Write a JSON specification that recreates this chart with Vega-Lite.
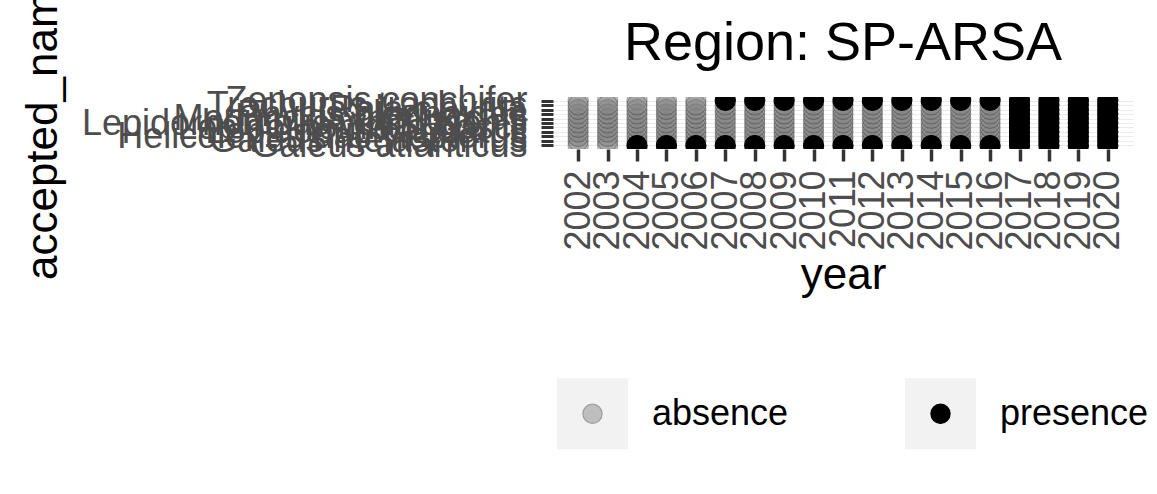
{
  "$schema": "https://vega.github.io/schema/vega-lite/v6.json",
  "width": 580,
  "height": 52,
  "autosize": {"type": "none"},
  "padding": {"left": 553, "top": 97, "right": 24, "bottom": 345},
  "background": "white",
  "config": {"font": "Liberation Sans", "view": {"stroke": null}},
  "title": {"text": "Region: SP-ARSA", "fontSize": 54, "fontWeight": "normal", "color": "#000000", "anchor": "middle", "frame": "group", "baseline": "alphabetic", "offset": -148},
  "datasets": {
    "occ": [
      {"accepted_name": "Galeus atlanticus", "year": 2002, "status": "absence"},
      {"accepted_name": "Galeus atlanticus", "year": 2003, "status": "absence"},
      {"accepted_name": "Galeus atlanticus", "year": 2004, "status": "presence"},
      {"accepted_name": "Galeus atlanticus", "year": 2005, "status": "presence"},
      {"accepted_name": "Galeus atlanticus", "year": 2006, "status": "presence"},
      {"accepted_name": "Galeus atlanticus", "year": 2007, "status": "presence"},
      {"accepted_name": "Galeus atlanticus", "year": 2008, "status": "presence"},
      {"accepted_name": "Galeus atlanticus", "year": 2009, "status": "presence"},
      {"accepted_name": "Galeus atlanticus", "year": 2010, "status": "presence"},
      {"accepted_name": "Galeus atlanticus", "year": 2011, "status": "presence"},
      {"accepted_name": "Galeus atlanticus", "year": 2012, "status": "presence"},
      {"accepted_name": "Galeus atlanticus", "year": 2013, "status": "presence"},
      {"accepted_name": "Galeus atlanticus", "year": 2014, "status": "presence"},
      {"accepted_name": "Galeus atlanticus", "year": 2015, "status": "presence"},
      {"accepted_name": "Galeus atlanticus", "year": 2016, "status": "presence"},
      {"accepted_name": "Galeus atlanticus", "year": 2017, "status": "presence"},
      {"accepted_name": "Galeus atlanticus", "year": 2018, "status": "presence"},
      {"accepted_name": "Galeus atlanticus", "year": 2019, "status": "presence"},
      {"accepted_name": "Galeus atlanticus", "year": 2020, "status": "presence"},
      {"accepted_name": "Zenopsis conchifer", "year": 2002, "status": "absence"},
      {"accepted_name": "Zenopsis conchifer", "year": 2003, "status": "absence"},
      {"accepted_name": "Zenopsis conchifer", "year": 2004, "status": "absence"},
      {"accepted_name": "Zenopsis conchifer", "year": 2005, "status": "absence"},
      {"accepted_name": "Zenopsis conchifer", "year": 2006, "status": "absence"},
      {"accepted_name": "Zenopsis conchifer", "year": 2007, "status": "presence"},
      {"accepted_name": "Zenopsis conchifer", "year": 2008, "status": "presence"},
      {"accepted_name": "Zenopsis conchifer", "year": 2009, "status": "presence"},
      {"accepted_name": "Zenopsis conchifer", "year": 2010, "status": "presence"},
      {"accepted_name": "Zenopsis conchifer", "year": 2011, "status": "presence"},
      {"accepted_name": "Zenopsis conchifer", "year": 2012, "status": "presence"},
      {"accepted_name": "Zenopsis conchifer", "year": 2013, "status": "presence"},
      {"accepted_name": "Zenopsis conchifer", "year": 2014, "status": "presence"},
      {"accepted_name": "Zenopsis conchifer", "year": 2015, "status": "presence"},
      {"accepted_name": "Zenopsis conchifer", "year": 2016, "status": "presence"},
      {"accepted_name": "Zenopsis conchifer", "year": 2017, "status": "presence"},
      {"accepted_name": "Zenopsis conchifer", "year": 2018, "status": "presence"},
      {"accepted_name": "Zenopsis conchifer", "year": 2019, "status": "presence"},
      {"accepted_name": "Zenopsis conchifer", "year": 2020, "status": "presence"},
      {"accepted_name": "Galeus melastomus", "year": 2002, "status": "absence"},
      {"accepted_name": "Galeus melastomus", "year": 2003, "status": "absence"},
      {"accepted_name": "Galeus melastomus", "year": 2004, "status": "absence"},
      {"accepted_name": "Galeus melastomus", "year": 2005, "status": "absence"},
      {"accepted_name": "Galeus melastomus", "year": 2006, "status": "absence"},
      {"accepted_name": "Galeus melastomus", "year": 2007, "status": "absence"},
      {"accepted_name": "Galeus melastomus", "year": 2008, "status": "absence"},
      {"accepted_name": "Galeus melastomus", "year": 2009, "status": "absence"},
      {"accepted_name": "Galeus melastomus", "year": 2010, "status": "absence"},
      {"accepted_name": "Galeus melastomus", "year": 2011, "status": "absence"},
      {"accepted_name": "Galeus melastomus", "year": 2012, "status": "absence"},
      {"accepted_name": "Galeus melastomus", "year": 2013, "status": "absence"},
      {"accepted_name": "Galeus melastomus", "year": 2014, "status": "absence"},
      {"accepted_name": "Galeus melastomus", "year": 2015, "status": "absence"},
      {"accepted_name": "Galeus melastomus", "year": 2016, "status": "absence"},
      {"accepted_name": "Galeus melastomus", "year": 2017, "status": "presence"},
      {"accepted_name": "Galeus melastomus", "year": 2018, "status": "presence"},
      {"accepted_name": "Galeus melastomus", "year": 2019, "status": "presence"},
      {"accepted_name": "Galeus melastomus", "year": 2020, "status": "presence"},
      {"accepted_name": "Helicolenus dactylopterus", "year": 2002, "status": "absence"},
      {"accepted_name": "Helicolenus dactylopterus", "year": 2003, "status": "absence"},
      {"accepted_name": "Helicolenus dactylopterus", "year": 2004, "status": "absence"},
      {"accepted_name": "Helicolenus dactylopterus", "year": 2005, "status": "absence"},
      {"accepted_name": "Helicolenus dactylopterus", "year": 2006, "status": "absence"},
      {"accepted_name": "Helicolenus dactylopterus", "year": 2007, "status": "absence"},
      {"accepted_name": "Helicolenus dactylopterus", "year": 2008, "status": "absence"},
      {"accepted_name": "Helicolenus dactylopterus", "year": 2009, "status": "absence"},
      {"accepted_name": "Helicolenus dactylopterus", "year": 2010, "status": "absence"},
      {"accepted_name": "Helicolenus dactylopterus", "year": 2011, "status": "absence"},
      {"accepted_name": "Helicolenus dactylopterus", "year": 2012, "status": "absence"},
      {"accepted_name": "Helicolenus dactylopterus", "year": 2013, "status": "absence"},
      {"accepted_name": "Helicolenus dactylopterus", "year": 2014, "status": "absence"},
      {"accepted_name": "Helicolenus dactylopterus", "year": 2015, "status": "absence"},
      {"accepted_name": "Helicolenus dactylopterus", "year": 2016, "status": "absence"},
      {"accepted_name": "Helicolenus dactylopterus", "year": 2017, "status": "presence"},
      {"accepted_name": "Helicolenus dactylopterus", "year": 2018, "status": "presence"},
      {"accepted_name": "Helicolenus dactylopterus", "year": 2019, "status": "presence"},
      {"accepted_name": "Helicolenus dactylopterus", "year": 2020, "status": "presence"},
      {"accepted_name": "Lepidopus caudatus", "year": 2002, "status": "absence"},
      {"accepted_name": "Lepidopus caudatus", "year": 2003, "status": "absence"},
      {"accepted_name": "Lepidopus caudatus", "year": 2004, "status": "absence"},
      {"accepted_name": "Lepidopus caudatus", "year": 2005, "status": "absence"},
      {"accepted_name": "Lepidopus caudatus", "year": 2006, "status": "absence"},
      {"accepted_name": "Lepidopus caudatus", "year": 2007, "status": "absence"},
      {"accepted_name": "Lepidopus caudatus", "year": 2008, "status": "absence"},
      {"accepted_name": "Lepidopus caudatus", "year": 2009, "status": "absence"},
      {"accepted_name": "Lepidopus caudatus", "year": 2010, "status": "absence"},
      {"accepted_name": "Lepidopus caudatus", "year": 2011, "status": "absence"},
      {"accepted_name": "Lepidopus caudatus", "year": 2012, "status": "absence"},
      {"accepted_name": "Lepidopus caudatus", "year": 2013, "status": "absence"},
      {"accepted_name": "Lepidopus caudatus", "year": 2014, "status": "absence"},
      {"accepted_name": "Lepidopus caudatus", "year": 2015, "status": "absence"},
      {"accepted_name": "Lepidopus caudatus", "year": 2016, "status": "absence"},
      {"accepted_name": "Lepidopus caudatus", "year": 2017, "status": "presence"},
      {"accepted_name": "Lepidopus caudatus", "year": 2018, "status": "presence"},
      {"accepted_name": "Lepidopus caudatus", "year": 2019, "status": "presence"},
      {"accepted_name": "Lepidopus caudatus", "year": 2020, "status": "presence"},
      {"accepted_name": "Lepidorhombus boscii", "year": 2002, "status": "absence"},
      {"accepted_name": "Lepidorhombus boscii", "year": 2003, "status": "absence"},
      {"accepted_name": "Lepidorhombus boscii", "year": 2004, "status": "absence"},
      {"accepted_name": "Lepidorhombus boscii", "year": 2005, "status": "absence"},
      {"accepted_name": "Lepidorhombus boscii", "year": 2006, "status": "absence"},
      {"accepted_name": "Lepidorhombus boscii", "year": 2007, "status": "absence"},
      {"accepted_name": "Lepidorhombus boscii", "year": 2008, "status": "absence"},
      {"accepted_name": "Lepidorhombus boscii", "year": 2009, "status": "absence"},
      {"accepted_name": "Lepidorhombus boscii", "year": 2010, "status": "absence"},
      {"accepted_name": "Lepidorhombus boscii", "year": 2011, "status": "absence"},
      {"accepted_name": "Lepidorhombus boscii", "year": 2012, "status": "absence"},
      {"accepted_name": "Lepidorhombus boscii", "year": 2013, "status": "absence"},
      {"accepted_name": "Lepidorhombus boscii", "year": 2014, "status": "absence"},
      {"accepted_name": "Lepidorhombus boscii", "year": 2015, "status": "absence"},
      {"accepted_name": "Lepidorhombus boscii", "year": 2016, "status": "absence"},
      {"accepted_name": "Lepidorhombus boscii", "year": 2017, "status": "presence"},
      {"accepted_name": "Lepidorhombus boscii", "year": 2018, "status": "presence"},
      {"accepted_name": "Lepidorhombus boscii", "year": 2019, "status": "presence"},
      {"accepted_name": "Lepidorhombus boscii", "year": 2020, "status": "presence"},
      {"accepted_name": "Lepidorhombus whiffiagonis", "year": 2002, "status": "absence"},
      {"accepted_name": "Lepidorhombus whiffiagonis", "year": 2003, "status": "absence"},
      {"accepted_name": "Lepidorhombus whiffiagonis", "year": 2004, "status": "absence"},
      {"accepted_name": "Lepidorhombus whiffiagonis", "year": 2005, "status": "absence"},
      {"accepted_name": "Lepidorhombus whiffiagonis", "year": 2006, "status": "absence"},
      {"accepted_name": "Lepidorhombus whiffiagonis", "year": 2007, "status": "absence"},
      {"accepted_name": "Lepidorhombus whiffiagonis", "year": 2008, "status": "absence"},
      {"accepted_name": "Lepidorhombus whiffiagonis", "year": 2009, "status": "absence"},
      {"accepted_name": "Lepidorhombus whiffiagonis", "year": 2010, "status": "absence"},
      {"accepted_name": "Lepidorhombus whiffiagonis", "year": 2011, "status": "absence"},
      {"accepted_name": "Lepidorhombus whiffiagonis", "year": 2012, "status": "absence"},
      {"accepted_name": "Lepidorhombus whiffiagonis", "year": 2013, "status": "absence"},
      {"accepted_name": "Lepidorhombus whiffiagonis", "year": 2014, "status": "absence"},
      {"accepted_name": "Lepidorhombus whiffiagonis", "year": 2015, "status": "absence"},
      {"accepted_name": "Lepidorhombus whiffiagonis", "year": 2016, "status": "absence"},
      {"accepted_name": "Lepidorhombus whiffiagonis", "year": 2017, "status": "presence"},
      {"accepted_name": "Lepidorhombus whiffiagonis", "year": 2018, "status": "presence"},
      {"accepted_name": "Lepidorhombus whiffiagonis", "year": 2019, "status": "presence"},
      {"accepted_name": "Lepidorhombus whiffiagonis", "year": 2020, "status": "presence"},
      {"accepted_name": "Merluccius merluccius", "year": 2002, "status": "absence"},
      {"accepted_name": "Merluccius merluccius", "year": 2003, "status": "absence"},
      {"accepted_name": "Merluccius merluccius", "year": 2004, "status": "absence"},
      {"accepted_name": "Merluccius merluccius", "year": 2005, "status": "absence"},
      {"accepted_name": "Merluccius merluccius", "year": 2006, "status": "absence"},
      {"accepted_name": "Merluccius merluccius", "year": 2007, "status": "absence"},
      {"accepted_name": "Merluccius merluccius", "year": 2008, "status": "absence"},
      {"accepted_name": "Merluccius merluccius", "year": 2009, "status": "absence"},
      {"accepted_name": "Merluccius merluccius", "year": 2010, "status": "absence"},
      {"accepted_name": "Merluccius merluccius", "year": 2011, "status": "absence"},
      {"accepted_name": "Merluccius merluccius", "year": 2012, "status": "absence"},
      {"accepted_name": "Merluccius merluccius", "year": 2013, "status": "absence"},
      {"accepted_name": "Merluccius merluccius", "year": 2014, "status": "absence"},
      {"accepted_name": "Merluccius merluccius", "year": 2015, "status": "absence"},
      {"accepted_name": "Merluccius merluccius", "year": 2016, "status": "absence"},
      {"accepted_name": "Merluccius merluccius", "year": 2017, "status": "presence"},
      {"accepted_name": "Merluccius merluccius", "year": 2018, "status": "presence"},
      {"accepted_name": "Merluccius merluccius", "year": 2019, "status": "presence"},
      {"accepted_name": "Merluccius merluccius", "year": 2020, "status": "presence"},
      {"accepted_name": "Phycis blennoides", "year": 2002, "status": "absence"},
      {"accepted_name": "Phycis blennoides", "year": 2003, "status": "absence"},
      {"accepted_name": "Phycis blennoides", "year": 2004, "status": "absence"},
      {"accepted_name": "Phycis blennoides", "year": 2005, "status": "absence"},
      {"accepted_name": "Phycis blennoides", "year": 2006, "status": "absence"},
      {"accepted_name": "Phycis blennoides", "year": 2007, "status": "absence"},
      {"accepted_name": "Phycis blennoides", "year": 2008, "status": "absence"},
      {"accepted_name": "Phycis blennoides", "year": 2009, "status": "absence"},
      {"accepted_name": "Phycis blennoides", "year": 2010, "status": "absence"},
      {"accepted_name": "Phycis blennoides", "year": 2011, "status": "absence"},
      {"accepted_name": "Phycis blennoides", "year": 2012, "status": "absence"},
      {"accepted_name": "Phycis blennoides", "year": 2013, "status": "absence"},
      {"accepted_name": "Phycis blennoides", "year": 2014, "status": "absence"},
      {"accepted_name": "Phycis blennoides", "year": 2015, "status": "absence"},
      {"accepted_name": "Phycis blennoides", "year": 2016, "status": "absence"},
      {"accepted_name": "Phycis blennoides", "year": 2017, "status": "presence"},
      {"accepted_name": "Phycis blennoides", "year": 2018, "status": "presence"},
      {"accepted_name": "Phycis blennoides", "year": 2019, "status": "presence"},
      {"accepted_name": "Phycis blennoides", "year": 2020, "status": "presence"},
      {"accepted_name": "Raja clavata", "year": 2002, "status": "absence"},
      {"accepted_name": "Raja clavata", "year": 2003, "status": "absence"},
      {"accepted_name": "Raja clavata", "year": 2004, "status": "absence"},
      {"accepted_name": "Raja clavata", "year": 2005, "status": "absence"},
      {"accepted_name": "Raja clavata", "year": 2006, "status": "absence"},
      {"accepted_name": "Raja clavata", "year": 2007, "status": "absence"},
      {"accepted_name": "Raja clavata", "year": 2008, "status": "absence"},
      {"accepted_name": "Raja clavata", "year": 2009, "status": "absence"},
      {"accepted_name": "Raja clavata", "year": 2010, "status": "absence"},
      {"accepted_name": "Raja clavata", "year": 2011, "status": "absence"},
      {"accepted_name": "Raja clavata", "year": 2012, "status": "absence"},
      {"accepted_name": "Raja clavata", "year": 2013, "status": "absence"},
      {"accepted_name": "Raja clavata", "year": 2014, "status": "absence"},
      {"accepted_name": "Raja clavata", "year": 2015, "status": "absence"},
      {"accepted_name": "Raja clavata", "year": 2016, "status": "absence"},
      {"accepted_name": "Raja clavata", "year": 2017, "status": "presence"},
      {"accepted_name": "Raja clavata", "year": 2018, "status": "presence"},
      {"accepted_name": "Raja clavata", "year": 2019, "status": "presence"},
      {"accepted_name": "Raja clavata", "year": 2020, "status": "presence"},
      {"accepted_name": "Trachurus trachurus", "year": 2002, "status": "absence"},
      {"accepted_name": "Trachurus trachurus", "year": 2003, "status": "absence"},
      {"accepted_name": "Trachurus trachurus", "year": 2004, "status": "absence"},
      {"accepted_name": "Trachurus trachurus", "year": 2005, "status": "absence"},
      {"accepted_name": "Trachurus trachurus", "year": 2006, "status": "absence"},
      {"accepted_name": "Trachurus trachurus", "year": 2007, "status": "absence"},
      {"accepted_name": "Trachurus trachurus", "year": 2008, "status": "absence"},
      {"accepted_name": "Trachurus trachurus", "year": 2009, "status": "absence"},
      {"accepted_name": "Trachurus trachurus", "year": 2010, "status": "absence"},
      {"accepted_name": "Trachurus trachurus", "year": 2011, "status": "absence"},
      {"accepted_name": "Trachurus trachurus", "year": 2012, "status": "absence"},
      {"accepted_name": "Trachurus trachurus", "year": 2013, "status": "absence"},
      {"accepted_name": "Trachurus trachurus", "year": 2014, "status": "absence"},
      {"accepted_name": "Trachurus trachurus", "year": 2015, "status": "absence"},
      {"accepted_name": "Trachurus trachurus", "year": 2016, "status": "absence"},
      {"accepted_name": "Trachurus trachurus", "year": 2017, "status": "presence"},
      {"accepted_name": "Trachurus trachurus", "year": 2018, "status": "presence"},
      {"accepted_name": "Trachurus trachurus", "year": 2019, "status": "presence"},
      {"accepted_name": "Trachurus trachurus", "year": 2020, "status": "presence"}
    ],
    "keys": []
  },
  "layer": [
    {
      "data": {"name": "occ"},
      "mark": {"type": "point", "filled": true, "size": 400, "strokeWidth": 1.2, "clip": true},
      "encoding": {
        "x": {
          "field": "year", "type": "ordinal",
          "scale": {"type": "point", "padding": 0.857},
          "axis": {"title": "year", "titleFontSize": 44, "titleFontWeight": "normal", "titleColor": "#000000", "titlePadding": 3, "titleLimit": 2000,
                   "labelAngle": 270, "labelFontSize": 36, "labelColor": "#4D4D4D", "labelPadding": 9, "labelOverlap": false,
                   "tickSize": 12, "tickWidth": 3.5, "tickColor": "#333333", "domain": false, "grid": true, "gridColor": "#EBEBEB", "gridWidth": 1}
        },
        "y": {
          "field": "accepted_name", "type": "nominal", "sort": "descending",
          "scale": {"type": "point", "padding": 0.78},
          "axis": {"title": "accepted_name", "titleFontSize": 44, "titleFontWeight": "normal", "titleColor": "#000000", "titlePadding": 16, "titleLimit": 2000,
                   "labelFontSize": 36, "labelColor": "#4D4D4D", "labelPadding": 14, "labelOverlap": false, "labelLimit": 2000, "maxExtent": 600,
                   "tickSize": 12, "tickWidth": 3, "tickColor": "#333333", "domain": false, "grid": true, "gridColor": "#EBEBEB", "gridWidth": 1}
        },
        "order": {"field": "status", "type": "nominal", "sort": "ascending"},
        "fill": {
          "field": "status", "type": "nominal",
          "scale": {"domain": ["absence", "presence"], "range": ["#808080", "#000000"]},
          "legend": {"title": null, "orient": "none", "legendX": 3, "legendY": 280, "direction": "horizontal", "padding": 0,
                     "symbolType": "M-1,-1 M1,1 M-0.27,0 A0.27,0.27 0 1 1 0.27,0 A0.27,0.27 0 1 1 -0.27,0 Z",
                     "symbolSize": 5041, "symbolStrokeWidth": 1.2, "labelFontSize": 36, "labelColor": "#000000",
                     "labelOffset": 23, "columnPadding": 113, "zindex": 2}
        },
        "stroke": {
          "field": "status", "type": "nominal",
          "scale": {"domain": ["absence", "presence"], "range": ["#3A3A3A", "#000000"]}
        },
        "opacity": {
          "field": "status", "type": "ordinal",
          "scale": {"domain": ["absence", "presence"], "range": [0.45, 1]}
        }
      }
    },
    {
      "data": {"name": "keys"},
      "mark": {"type": "square", "filled": true, "color": "#F2F2F2"},
      "encoding": {
        "size": {
          "field": "status", "type": "ordinal",
          "scale": {"domain": ["a", "p"], "range": [5041, 5041]},
          "legend": {"title": null, "orient": "none", "legendX": 3, "legendY": 280, "direction": "horizontal", "padding": 0,
                     "symbolType": "square", "symbolFillColor": "#F2F2F2", "symbolStrokeColor": "#F2F2F2", "symbolStrokeWidth": 1.2, "symbolOpacity": 1,
                     "labelFontSize": 36, "labelOffset": 23, "labelOpacity": 0,
                     "labelExpr": "datum.label == 'a' ? 'absence' : 'presence'",
                     "columnPadding": 113, "zindex": 1}
        }
      }
    }
  ]
}
